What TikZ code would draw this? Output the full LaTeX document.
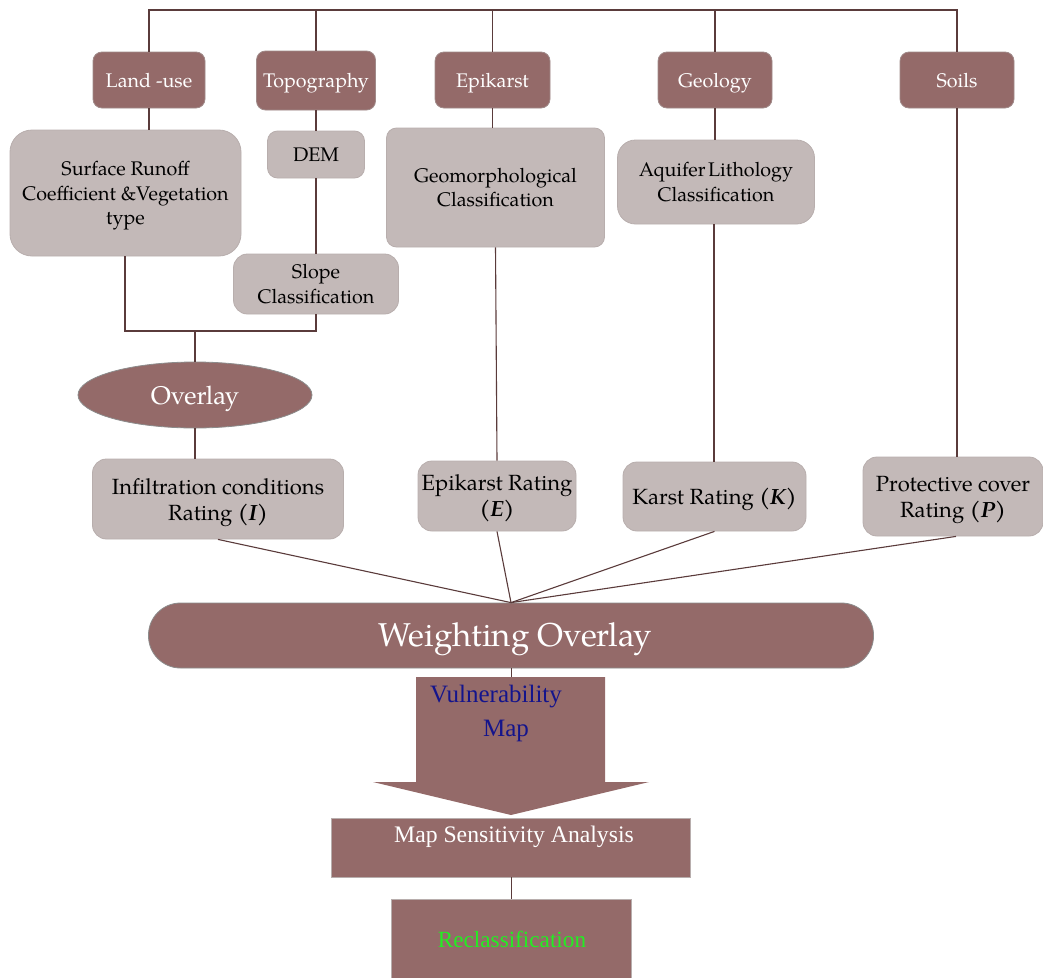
\documentclass[tikz,border=0pt]{standalone}
\usepackage{fontspec}
\setmainfont{TeX Gyre Pagella}
\newfontfamily\timesfont{Liberation Serif}
\usetikzlibrary{shapes.geometric}

\definecolor{darkbox}{HTML}{946A69}
\definecolor{darkedge}{HTML}{A08A89}
\definecolor{lightbox}{HTML}{C3B9B8}
\definecolor{lightedge}{HTML}{B8AEAD}
\definecolor{linkcol}{HTML}{5A3B3B}
\definecolor{grayedge}{HTML}{8C8C8C}
\definecolor{navytext}{HTML}{14148C}
\definecolor{greentext}{HTML}{22EE22}

\tikzset{
  link/.style={draw=linkcol, line width=1.1pt},
  topic/.style={draw=darkedge, line width=0.8pt, fill=darkbox, rounded corners=9pt,
    text=white, font=\fontsize{19.7}{23}\selectfont, inner sep=0pt, align=center,
    text depth=0pt},
  proc/.style={draw=lightedge, line width=0.8pt, fill=lightbox, rounded corners=#1,
    text=black, font=\fontsize{19.7}{24.5}\selectfont, inner sep=0pt, align=center,
    text depth=0pt},
  proc/.default=13pt,
  rating/.style={proc=14pt, font=\fontsize{22}{26}\selectfont},
  flat/.style={draw=lightedge, line width=0.8pt, fill=darkbox, inner sep=0pt},
  condensed/.style={font=\timesfont\fontsize{#1}{#1}\selectfont, inner sep=0pt, anchor=base}
}

\begin{document}
\begin{tikzpicture}[x=1pt,y=-1pt]
\useasboundingbox (0,0) rectangle (1043,977);

% input themes
\node[topic, minimum width=112pt, minimum height=56pt] (land) at (149,80) {Land -use};
\node[topic, minimum width=119pt, minimum height=59pt] (topo) at (316,80.5) {Topography};
\node[topic, minimum width=115pt, minimum height=56pt] (epi)  at (492.5,80) {Epikarst};
\node[topic, minimum width=114pt, minimum height=56pt] (geo)  at (715,80) {Geology};
\node[topic, minimum width=114pt, minimum height=56pt] (soil) at (957,80) {Soils};

% intermediate products
\node[proc=22pt, minimum width=231pt, minimum height=126pt] (runoff) at (125.5,193)
  {Surface Runoff\\Coefficient \&Vegetation\\type};
\node[proc=10pt, minimum width=97pt, minimum height=47pt] (dem) at (316,154.5) {DEM};
\node[proc=14pt, minimum width=165pt, minimum height=60pt] (slope) at (316,284)
  {Slope\\Classification};
\node[proc=10pt, minimum width=218pt, minimum height=119pt] (geomorph) at (495.5,187.5)
  {Geomorphological\\Classification};
\node[proc=18pt, minimum width=197pt, minimum height=84pt] (aquifer) at (716,182)
  {Aquifer\hspace{-0.12em} Lithology\\Classification};

\node[ellipse, draw=grayedge, line width=0.8pt, fill=darkbox, text=white,
  font=\fontsize{25.5}{28}\selectfont, minimum width=234pt, minimum height=66pt,
  inner sep=0pt, text depth=0pt] (overlay) at (195,395) {Overlay};

% ratings
\node[rating, minimum width=251pt, minimum height=80pt] (infil) at (218,499)
  {Infiltration conditions\\Rating \textbf{\textit{(I)}}};
\node[rating, minimum width=158pt, minimum height=70pt] (epir) at (497,496)
  {Epikarst Rating\\\textbf{\textit{(E)}}};
\node[rating, minimum width=183pt, minimum height=69pt] (karst) at (714.5,496.5)
  {Karst Rating \textbf{\textit{(K)}}};
\node[rating, minimum width=180pt, minimum height=79pt] (prot) at (953,496.5)
  {Protective cover\\Rating \textbf{\textit{(P)}}};

% weighted overlay and result
\node[draw=grayedge, line width=0.8pt, fill=darkbox, rounded corners=32pt,
  minimum width=725pt, minimum height=65pt, inner sep=0pt, text=white,
  font=\fontsize{33}{36}\selectfont, text height=22pt, text depth=0pt] (weight) at (511,635.5)
  {\hspace*{8pt}Weighting Overlay};

\fill[darkbox] (416,677) -- (605,677) -- (605,782) -- (649,782) -- (511,815)
  -- (373,782) -- (416,782) -- cycle;
\coordinate (vtop) at (511,677);
\node[condensed=25, text=navytext] (vul) at (496,702) {Vulnerability};
\node[condensed=25, text=navytext] (vmap) at (506,736) {Map};

\node[flat, minimum width=359pt, minimum height=59pt] (msa) at (511,847.5) {};
\node[condensed=23.7, text=white] (msatext) at (514,842) {Map Sensitivity Analysis};

\node[flat, minimum width=240pt, minimum height=82pt] (recl) at (511,940) {};
\node[condensed=23.2, text=greentext] (recltext) at (512,947) {Reclassification};

% top distribution bus
\draw[link] (land.north) -- (land.north |- 0,10) -- (soil.north |- 0,10) -- (soil.north);
\draw[link] (topo.north) -- (topo.north |- 0,10);
\draw[link] (epi.north) -- (epi.north |- 0,10);
\draw[link] (geo.north) -- (geo.north |- 0,10);

% theme to product links
\draw[link] (land.south) -- (land.south |- runoff.north);
\draw[link] (topo.south) -- (dem.north);
\draw[link] (dem.south) -- (slope.north);
\draw[link] (epi.south) -- (epi.south |- geomorph.north);
\draw[link] (geo.south) -- (geo.south |- aquifer.north);

% infiltration branch
\coordinate (join) at (195,331);
\draw[link] (runoff.south -| 125,0) -- (125,331) -- (slope.south |- 0,331) -- (slope.south);
\draw[link] (join) -- (overlay.north);
\draw[link] (overlay.south) -- (overlay.south |- infil.north);

% vertical chains to ratings
\draw[link] (geomorph.south) -- (epir.north);
\draw[link] (aquifer.south -| 714,0) -- (karst.north -| 714,0);
\draw[link] (soil.south) -- (prot.north -| soil.south);

% ratings converge on the weighting
\draw[link] (infil.south) -- (weight.north);
\draw[link] (epir.south) -- (weight.north);
\draw[link] (karst.south) -- (weight.north);
\draw[link] (prot.south -| 956,0) -- (weight.north);

% result chain
\draw[link, line width=0.8pt] (weight.south) -- (vtop);
\draw[link, line width=0.8pt] (msa.south) -- (recl.north);
\end{tikzpicture}
\end{document}
